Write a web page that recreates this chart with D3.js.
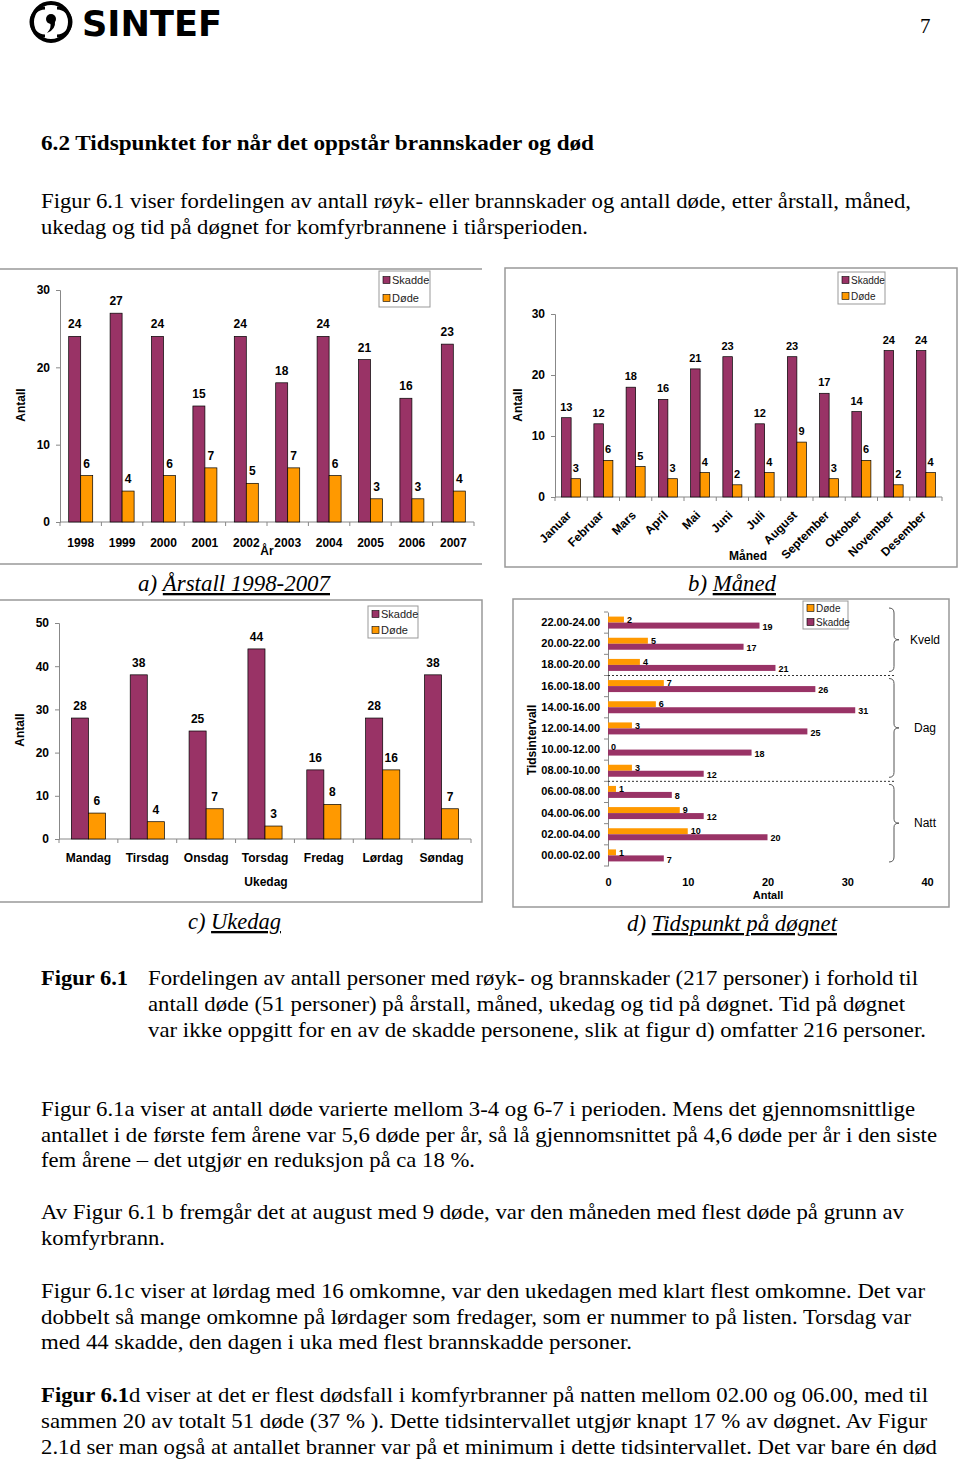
<!DOCTYPE html>
<html><head><meta charset="utf-8">
<script src="https://cdn.jsdelivr.net/npm/d3@7"></script>
<style>body{margin:0;background:#fff}svg{display:block}</style>
</head><body><svg id="c" width="960" height="1463"></svg>
<script>
// ---------- DATA ----------
const years = ["1998","1999","2000","2001","2002","2003","2004","2005","2006","2007"];
const yearSkadde = [24,27,24,15,24,18,24,21,16,23];
const yearDode = [6,4,6,7,5,7,6,3,3,4];
const yearTicks = [0,10,20,30];

const months = ["Januar","Februar","Mars","April","Mai","Juni","Juli","August","September","Oktober","November","Desember"];
const monthSkadde = [13,12,18,16,21,23,12,23,17,14,24,24];
const monthDode = [3,6,5,3,4,2,4,9,3,6,2,4];
const monthTicks = [0,10,20,30];

const days = ["Mandag","Tirsdag","Onsdag","Torsdag","Fredag","Lørdag","Søndag"];
const daySkadde = [28,38,25,44,16,28,38];
const dayDode = [6,4,7,3,8,16,7];
const dayTicks = [0,10,20,30,40,50];

const intervals = ["22.00-24.00","20.00-22.00","18.00-20.00","16.00-18.00","14.00-16.00","12.00-14.00","10.00-12.00","08.00-10.00","06.00-08.00","04.00-06.00","02.00-04.00","00.00-02.00"];
const timeDode = [2,5,4,7,6,3,0,3,1,9,10,1];
const timeSkadde = [19,17,21,26,31,25,18,12,8,12,20,7];
const timeTicks = [0,10,20,30,40];
const dayParts = [{name:"Kveld",from:0,to:2},{name:"Dag",from:3,to:7},{name:"Natt",from:8,to:11}];

const C_SK = "#993366", C_DO = "#FF9900";
const SANS = "'Liberation Sans', Arial, sans-serif";
const SERIF = "'Liberation Serif', 'Times New Roman', serif";

const svg = d3.select("#c");
svg.append("rect").attr("width",960).attr("height",1463).attr("fill","#fff");

// ---------- HEADER ----------
const logo = svg.append("g");
logo.append("circle").attr("cx",51).attr("cy",22).attr("r",19).attr("fill","none").attr("stroke","#000").attr("stroke-width",4);
logo.append("path").attr("d","M45,8 A14,14 0 0,0 45,36").attr("fill","none").attr("stroke","#000").attr("stroke-width",3);
logo.append("path").attr("d","M57,8 A14,14 0 0,1 57,36").attr("fill","none").attr("stroke","#000").attr("stroke-width",3);
logo.append("circle").attr("cx",51).attr("cy",19).attr("r",5).attr("fill","#000");
logo.append("path").attr("d","M55,20 Q56,30 47,33 Q52,28 50,22 Z").attr("fill","#000");
svg.append("text").attr("x",82).attr("y",36).attr("font-family","'DejaVu Sans', sans-serif").attr("font-weight","bold")
  .attr("font-size",36).attr("textLength",140).attr("lengthAdjust","spacingAndGlyphs").text("SINTEF");
svg.append("text").attr("x",920).attr("y",33).attr("font-family",SERIF).attr("font-size",21).text("7");

function line(x,y,endX,parts,size){
  const t = svg.append("text").attr("x",x).attr("y",y).attr("font-family",SERIF).attr("font-size",size||21)
    .attr("textLength",endX-x).attr("lengthAdjust","spacingAndGlyphs").attr("fill","#000");
  parts.forEach(p=>{
    const s = t.append("tspan").text(p.t);
    if(p.b) s.attr("font-weight","bold");
  });
  return t;
}
line(41,150,594,[{t:"6.2  Tidspunktet for når det oppstår brannskader og død",b:true}],21);
line(41,208,911,[{t:"Figur 6.1 viser fordelingen av antall røyk- eller brannskader og antall døde, etter årstall, måned,"}]);
line(41,234,588,[{t:"ukedag og tid på døgnet for komfyrbrannene i tiårsperioden."}]);

line(41,985,128,[{t:"Figur 6.1",b:true}]);
line(148,985,918,[{t:"Fordelingen av antall personer med røyk- og brannskader (217 personer) i forhold til"}]);
line(148,1011,905,[{t:"antall døde (51 personer) på årstall, måned, ukedag og tid på døgnet. Tid på døgnet"}]);
line(148,1037,926,[{t:"var ikke oppgitt for en av de skadde personene, slik at figur d) omfatter 216 personer."}]);

line(41,1116,915,[{t:"Figur 6.1a viser at antall døde varierte mellom 3-4 og 6-7 i perioden. Mens det gjennomsnittlige"}]);
line(41,1142,937,[{t:"antallet i de første fem årene var 5,6 døde per år, så lå gjennomsnittet på 4,6 døde per år i den siste"}]);
line(41,1167,475,[{t:"fem årene – det utgjør en reduksjon på ca 18 %."}]);

line(41,1219,904,[{t:"Av Figur 6.1 b fremgår det at august med 9 døde, var den måneden med flest døde på grunn av"}]);
line(41,1245,165,[{t:"komfyrbrann."}]);

line(41,1298,925,[{t:"Figur 6.1c viser at lørdag med 16 omkomne, var den ukedagen med klart flest omkomne. Det var"}]);
line(41,1324,911,[{t:"dobbelt så mange omkomne på lørdager som fredager, som er nummer to på listen. Torsdag var"}]);
line(41,1349,632,[{t:"med 44 skadde, den dagen i uka med flest brannskadde personer."}]);

line(41,1402,928,[{t:"Figur 6.1",b:true},{t:"d viser at det er flest dødsfall i komfyrbranner på natten mellom 02.00 og 06.00, med til"}]);
line(41,1428,927,[{t:"sammen 20 av totalt 51 døde (37 % ). Dette tidsintervallet utgjør knapt 17 % av døgnet. Av Figur"}]);
line(41,1454,937,[{t:"2.1d ser man også at antallet branner var på et minimum i dette tidsintervallet. Det var bare én død"}]);

// captions
function caption(x,y,endX,pre,ul){
  const t = svg.append("text").attr("x",x).attr("y",y).attr("font-family",SERIF).attr("font-style","italic")
    .attr("font-size",23).attr("textLength",endX-x).attr("lengthAdjust","spacingAndGlyphs");
  t.append("tspan").text(pre);
  t.append("tspan").attr("text-decoration","underline").style("text-decoration","underline").text(ul);
}
caption(138,591,330,"a) ","Årstall 1998-2007");
caption(688,591,776,"b) ","Måned");
caption(188,929,281,"c) ","Ukedag");
caption(627,931,837,"d) ","Tidspunkt på døgnet");

// ---------- helpers ----------
function legend(x,y,w,h,items,fs){
  const g = svg.append("g");
  g.append("rect").attr("x",x).attr("y",y).attr("width",w).attr("height",h).attr("fill","#fff").attr("stroke","#999").attr("stroke-width",1);
  items.forEach((it,i)=>{
    const cy = y + h*(i+0.5)/items.length;
    g.append("rect").attr("x",x+4).attr("y",cy-3.5).attr("width",7).attr("height",7).attr("fill",it.c).attr("stroke","#000").attr("stroke-width",0.6);
    g.append("text").attr("x",x+13).attr("y",cy).attr("dy","0.35em").attr("font-family",SANS).attr("font-size",fs).attr("fill","#222").text(it.n);
  });
}

function vchart(o){
  const g = svg.append("g");
  const x = d3.scaleBand().domain(o.cats).range([o.x0,o.x1]);
  const y = d3.scaleLinear().domain([0,o.max]).range([o.yb,o.yt]);
  const w = x.step()*o.frac;
  const ya = g.append("g").attr("transform",`translate(${o.x0},0)`)
    .call(d3.axisLeft(y).tickValues(o.ticks).tickSize(4).tickPadding(o.tp||6).tickFormat(d3.format("d")));
  ya.select(".domain").attr("stroke","#888");
  ya.selectAll(".tick line").attr("stroke","#888");
  ya.selectAll("text").attr("font-family",SANS).attr("font-weight","bold").attr("font-size",o.tfs).attr("fill","#000");
  g.append("line").attr("x1",o.x0).attr("x2",o.x1).attr("y1",o.yb).attr("y2",o.yb).attr("stroke","#888");
  g.selectAll(".bt").data(d3.range(o.cats.length+1)).join("line")
    .attr("x1",i=>o.x0+i*x.step()).attr("x2",i=>o.x0+i*x.step()).attr("y1",o.yb).attr("y2",o.yb+4).attr("stroke","#888");
  const cx = c=>x(c)+x.bandwidth()/2;
  g.selectAll(".s").data(o.cats).join("rect").attr("x",c=>cx(c)-w).attr("width",w)
    .attr("y",(c,i)=>y(o.s[i])).attr("height",(c,i)=>o.yb-y(o.s[i])).attr("fill",C_SK).attr("stroke","#000").attr("stroke-width",0.7);
  g.selectAll(".d").data(o.cats).join("rect").attr("x",c=>cx(c)).attr("width",w)
    .attr("y",(c,i)=>y(o.d[i])).attr("height",(c,i)=>o.yb-y(o.d[i])).attr("fill",C_DO).attr("stroke","#000").attr("stroke-width",0.7);
  const lab = (off,arr)=>g.append("g").selectAll("text").data(o.cats).join("text")
    .attr("x",c=>cx(c)+off).attr("y",(c,i)=>y(arr[i])-o.lo).attr("text-anchor","middle")
    .attr("font-family",SANS).attr("font-weight","bold").attr("font-size",o.vfs).text((c,i)=>arr[i]);
  lab(-w/2,o.s); lab(w/2,o.d);
  if(o.rot){
    g.selectAll(".cl").data(o.cats).join("text")
      .attr("transform",c=>`translate(${cx(c)+o.rdx},${o.yb+o.rdy}) rotate(-45)`)
      .attr("text-anchor","end").attr("dy","0.35em").attr("font-family",SANS).attr("font-weight","bold").attr("font-size",o.cfs).text(c=>c);
  } else {
    const xa = g.append("g").attr("transform",`translate(0,${o.yb})`)
      .call(d3.axisBottom(x).tickSize(0).tickPadding(o.cpad));
    xa.select(".domain").remove();
    xa.selectAll("text").attr("font-family",SANS).attr("font-weight","bold").attr("font-size",o.cfs).attr("fill","#000");
  }
  return {g,x,y};
}
function axisTitle(x,y,txt,fs,rot){
  svg.append("text").attr("transform",`translate(${x},${y})${rot?" rotate(-90)":""}`).attr("text-anchor","middle")
    .attr("dy","0.35em").attr("font-family",SANS).attr("font-weight","bold").attr("font-size",fs).text(txt);
}

// ---------- chart a ----------
svg.append("line").attr("x1",0).attr("x2",482).attr("y1",269).attr("y2",269).attr("stroke","#999").attr("stroke-width",1.5);
svg.append("line").attr("x1",0).attr("x2",482).attr("y1",564).attr("y2",564).attr("stroke","#999").attr("stroke-width",1.5);
vchart({cats:years,s:yearSkadde,d:yearDode,x0:60,x1:474,yb:522,yt:290,max:30,ticks:yearTicks,frac:0.29,tfs:12,vfs:12,lo:8,cfs:12,cpad:16});
axisTitle(21,405,"Antall",12,true);
axisTitle(267,551,"År",12,false);
legend(379,271,51,36,[{n:"Skadde",c:C_SK},{n:"Døde",c:C_DO}],11);

// ---------- chart b ----------
svg.append("rect").attr("x",505).attr("y",268).attr("width",452).attr("height",299).attr("fill","none").attr("stroke","#999").attr("stroke-width",1.5);
vchart({cats:months,s:monthSkadde,d:monthDode,x0:555,x1:942,yb:497,yt:314,max:30,ticks:monthTicks,frac:0.295,tfs:12,vfs:11,lo:7,cfs:12,rot:true,rdx:-2,rdy:16});
axisTitle(518,405,"Antall",12,true);
axisTitle(748,556,"Måned",12,false);
legend(838,272,47,32,[{n:"Skadde",c:C_SK},{n:"Døde",c:C_DO}],10);

// ---------- chart c ----------
svg.append("path").attr("d","M0,600 L482,600 L482,902 L0,902").attr("fill","none").attr("stroke","#999").attr("stroke-width",1.5);
vchart({cats:days,s:daySkadde,d:dayDode,x0:59,x1:471,yb:839,yt:623,max:50,ticks:dayTicks,frac:0.29,tfs:12,vfs:12,lo:8,cfs:12,cpad:14});
axisTitle(20,730,"Antall",12,true);
axisTitle(266,882,"Ukedag",12,false);
legend(368,606,50,32,[{n:"Skadde",c:C_SK},{n:"Døde",c:C_DO}],11);

// ---------- chart d ----------
svg.append("rect").attr("x",513).attr("y",599).attr("width",436).attr("height",308).attr("fill","none").attr("stroke","#999").attr("stroke-width",1.5);
(function(){
  const g = svg.append("g");
  const y = d3.scaleBand().domain(intervals).range([612,866]);
  const x = d3.scaleLinear().domain([0,40]).range([608,927]);
  const bh = 6;
  const ya = g.append("g").attr("transform","translate(608,0)").call(d3.axisLeft(y).tickSize(0).tickPadding(8));
  ya.select(".domain").attr("stroke","#888");
  ya.selectAll("text").attr("font-family",SANS).attr("font-weight","bold").attr("font-size",11).attr("fill","#000");
  g.selectAll(".bt").data(d3.range(intervals.length+1)).join("line")
    .attr("x1",604).attr("x2",608).attr("y1",i=>612+i*y.step()).attr("y2",i=>612+i*y.step()).attr("stroke","#888");
  const xa = g.append("g").attr("transform","translate(0,866)").call(d3.axisBottom(x).tickValues(timeTicks).tickSize(0).tickPadding(12));
  xa.select(".domain").remove();
  xa.selectAll("text").attr("font-family",SANS).attr("font-weight","bold").attr("font-size",11).attr("fill","#000");
  const cy = c=>y(c)+y.bandwidth()/2;
  g.selectAll(".d").data(intervals).join("rect").attr("x",608).attr("y",c=>cy(c)-bh).attr("height",bh)
    .attr("width",(c,i)=>x(timeDode[i])-608).attr("fill",C_DO);
  g.selectAll(".s").data(intervals).join("rect").attr("x",608).attr("y",c=>cy(c)).attr("height",bh)
    .attr("width",(c,i)=>x(timeSkadde[i])-608).attr("fill",C_SK);
  g.append("g").selectAll("text").data(intervals).join("text").attr("x",(c,i)=>x(timeDode[i])+3).attr("y",c=>cy(c)-bh/2)
    .attr("dy","0.35em").attr("font-family",SANS).attr("font-weight","bold").attr("font-size",9).text((c,i)=>timeDode[i]);
  g.append("g").selectAll("text").data(intervals).join("text").attr("x",(c,i)=>x(timeSkadde[i])+3).attr("y",c=>cy(c)+bh/2+1)
    .attr("dy","0.35em").attr("font-family",SANS).attr("font-weight","bold").attr("font-size",9).text((c,i)=>timeSkadde[i]);
  dayParts.forEach((p,k)=>{
    const top = y(intervals[p.from]), bot = y(intervals[p.to])+y.step();
    if(k>0) g.append("line").attr("x1",608).attr("x2",896).attr("y1",top).attr("y2",top)
      .attr("stroke","#333").attr("stroke-dasharray","2,2").attr("stroke-width",1);
    const y1 = k===0? top-4 : top+3, y2 = bot-4, m=(y1+y2)/2, bx=889, w=10;
    g.append("path").attr("d",`M${bx},${y1} Q${bx+w/2},${y1} ${bx+w/2},${y1+5} L${bx+w/2},${m-4} Q${bx+w/2},${m} ${bx+w},${m} Q${bx+w/2},${m} ${bx+w/2},${m+4} L${bx+w/2},${y2-5} Q${bx+w/2},${y2} ${bx},${y2}`)
      .attr("fill","none").attr("stroke","#555").attr("stroke-width",1);
    g.append("text").attr("x",925).attr("y",m).attr("dy","0.35em").attr("text-anchor","middle")
      .attr("font-family",SANS).attr("font-size",12).text(p.name);
  });
})();
axisTitle(532,740,"Tidsintervall",12,true);
axisTitle(768,895,"Antall",11,false);
legend(803,601,45,28,[{n:"Døde",c:C_DO},{n:"Skadde",c:C_SK}],10);
</script></body></html>
